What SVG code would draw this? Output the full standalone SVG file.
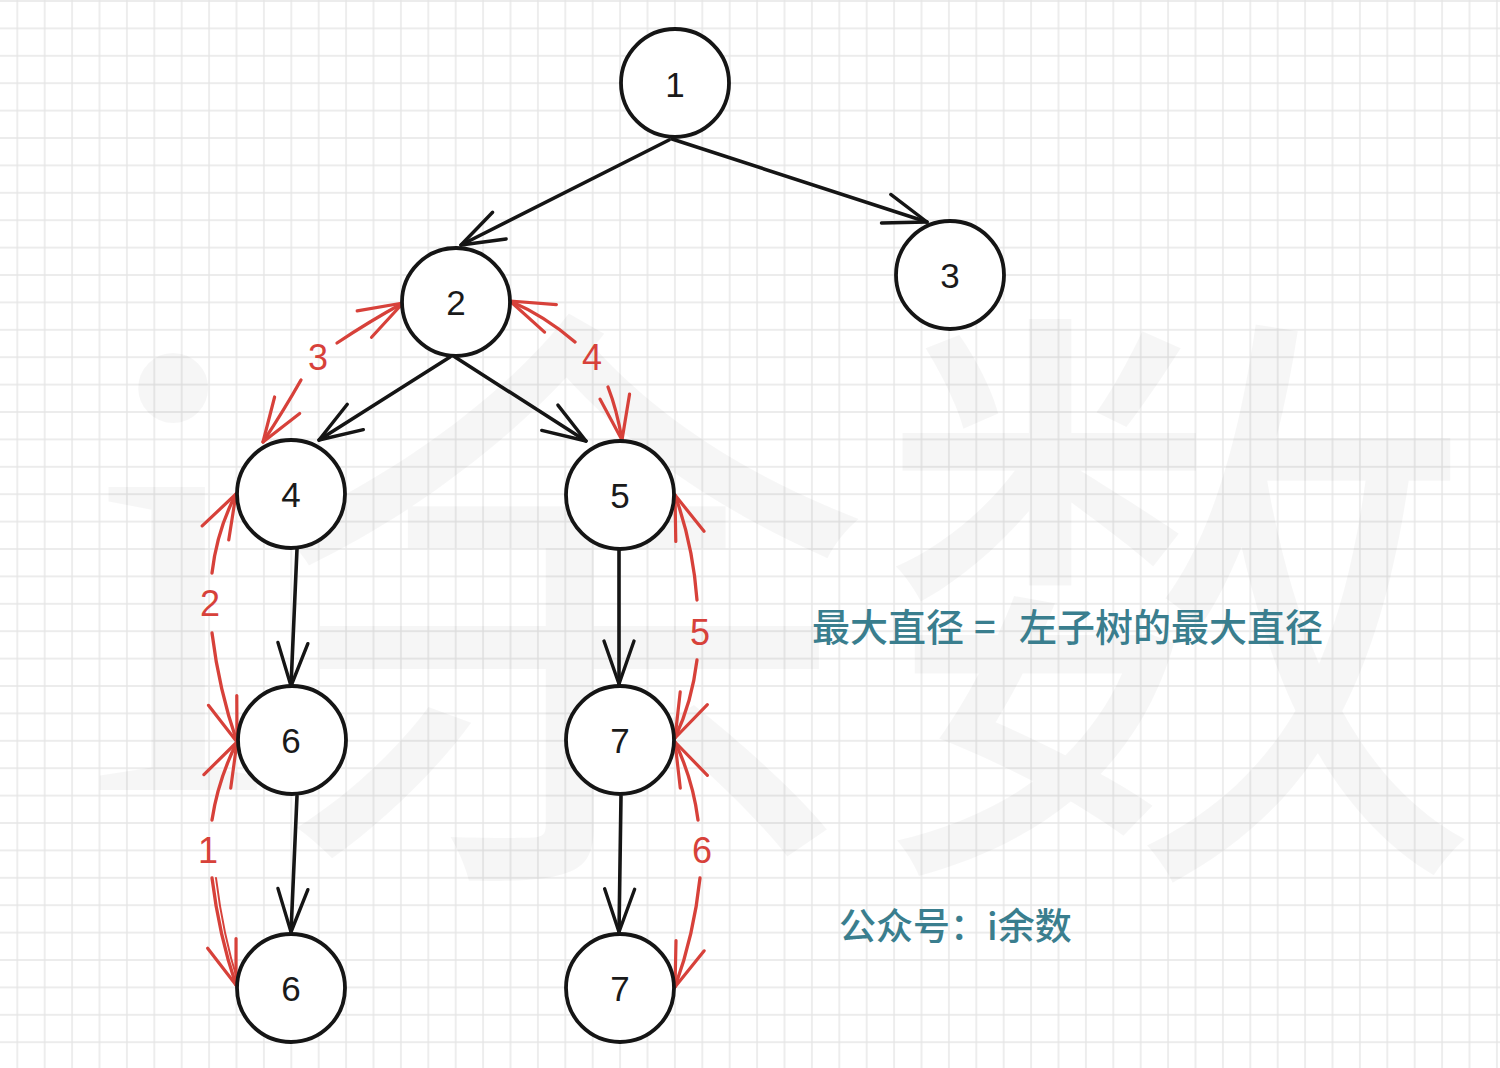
<svg xmlns="http://www.w3.org/2000/svg" width="1500" height="1068" viewBox="0 0 1500 1068">
  <defs>
    <pattern id="grid" patternUnits="userSpaceOnUse" x="3.6" y="-12.7" width="27.4" height="27.4">
      <path d="M13.7 0 V27.4 M0 13.7 H27.4" stroke="#e6e6e6" stroke-width="1.4" fill="none"/>
    </pattern>
    <marker id="ah-black" markerUnits="userSpaceOnUse" markerWidth="60" markerHeight="40" viewBox="-50 -20 60 40" refX="0" refY="0" orient="auto">
      <path d="M-43,-15 L0,0 L-43,15" fill="none" stroke="#151515" stroke-width="3.4" stroke-linecap="round" stroke-linejoin="round"/>
    </marker>
    <marker id="ah-red" markerUnits="userSpaceOnUse" markerWidth="60" markerHeight="40" viewBox="-50 -20 60 40" refX="0" refY="0" orient="auto">
      <path d="M-44,-15 L0,0 L-44,15" fill="none" stroke="#d7413a" stroke-width="3.2" stroke-linecap="round" stroke-linejoin="round"/>
    </marker>
  </defs>
  <style>
    .node circle { fill: #ffffff; stroke: #151515; stroke-width: 3.8; }
    .node text { font-family: "Liberation Sans", Arial, sans-serif; font-size: 35px; fill: #1a1a1a; text-anchor: middle; }
    .edge { fill: none; stroke: #151515; stroke-width: 3.6; stroke-linecap: round; marker-end: url(#ah-black); }
    .path { fill: none; stroke: #d7413a; stroke-width: 3.3; stroke-linecap: round; marker-end: url(#ah-red); }
    .plain { fill: none; stroke: #d7413a; stroke-width: 2; stroke-linecap: round; }
    .lbl { font-family: "Liberation Sans", Arial, sans-serif; font-size: 36px; fill: #d7413a; text-anchor: middle; }
    .note { font-family: "Noto Sans CJK SC", "Noto Sans", sans-serif; font-weight: 500; fill: #3a7e8e; }
    .wm { fill: #000000; fill-opacity: 0.035; }
  </style>

  <rect width="1500" height="1068" fill="#ffffff"/>
  <rect width="1500" height="1068" fill="url(#grid)"/>

  <g id="watermark">
    <text class="wm" x="86" y="790" font-family="Liberation Serif, serif" font-size="660">i</text>
    <text class="wm" x="262" y="832" font-family="Noto Sans CJK SC, sans-serif" font-size="610">余数</text>
  </g>

  <g id="connectors">
    <path class="edge" d="M669,140 L461,245" stroke-width="4"/>
    <path class="edge" d="M672,139 L927,222"/>
    <path class="edge" d="M450,357 L319,440"/>
    <path class="edge" d="M455,357 L586,441"/>
    <path class="edge" d="M297,549 L291,686"/>
    <path class="edge" d="M297,796 L291,932"/>
    <path class="edge" d="M619,549 L619,684"/>
    <path class="edge" d="M621,796 L619,932"/>

    <path class="path" d="M337,343 Q370,321 403,303"/>
    <path class="path" d="M301,380 Q284,410 263,442"/>
    <path class="path" d="M575,342 Q545,316 510,301"/>
    <path class="path" d="M608,387 Q617,410 622,440"/>
    <path class="path" d="M212,573 Q217,530 236,494"/>
    <path class="path" d="M212,633 Q219,690 237,742"/>
    <path class="path" d="M212,820 Q218,780 237,742"/>
    <path class="path" d="M212,878 Q219,935 236,985"/>
    <path class="plain" d="M216,878 Q223,935 238,982"/>
    <path class="path" d="M697,600 Q693,545 675,495"/>
    <path class="path" d="M697,660 Q692,702 675,738"/>
    <path class="path" d="M698,820 Q693,780 675,742"/>
    <path class="path" d="M700,878 Q694,935 675,987"/>
  </g>

  <g id="edge-labels">
    <text class="lbl" x="318" y="370">3</text>
    <text class="lbl" x="592" y="370">4</text>
    <text class="lbl" x="210" y="616">2</text>
    <text class="lbl" x="208" y="863">1</text>
    <text class="lbl" x="700" y="645">5</text>
    <text class="lbl" x="702" y="863">6</text>
  </g>

  <g id="node-1" class="node"><circle cx="675" cy="83" r="54"/><text x="675" y="97">1</text></g>
  <g id="node-3" class="node"><circle cx="950" cy="275" r="54"/><text x="950" y="288">3</text></g>
  <g id="node-2" class="node"><circle cx="456" cy="302" r="54"/><text x="456" y="315">2</text></g>
  <g id="node-4" class="node"><circle cx="291" cy="494" r="54"/><text x="291" y="507">4</text></g>
  <g id="node-5" class="node"><circle cx="620" cy="495" r="54"/><text x="620" y="508">5</text></g>
  <g id="node-6a" class="node"><circle cx="292" cy="740" r="54"/><text x="291" y="753">6</text></g>
  <g id="node-7a" class="node"><circle cx="620" cy="740" r="54"/><text x="620" y="753">7</text></g>
  <g id="node-6b" class="node"><circle cx="291" cy="988" r="54"/><text x="291" y="1001">6</text></g>
  <g id="node-7b" class="node"><circle cx="620" cy="988" r="54"/><text x="620" y="1001">7</text></g>

  <g id="notes">
    <text class="note" font-size="38" y="641"><tspan x="812">最大直径</tspan><tspan x="974">=</tspan><tspan x="1019">左子树的最大直径</tspan></text>
    <text class="note" font-size="37" x="839" y="940">公众号：i余数</text>
  </g>
</svg>
